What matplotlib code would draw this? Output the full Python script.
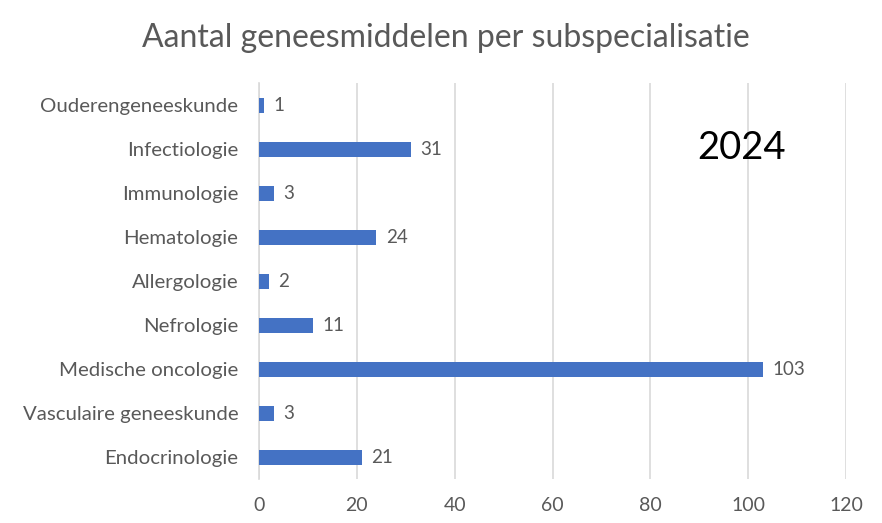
import matplotlib
matplotlib.use("Agg")
import matplotlib.pyplot as plt

categories = ["Ouderengeneeskunde", "Infectiologie", "Immunologie", "Hematologie",
              "Allergologie", "Nefrologie", "Medische oncologie",
              "Vasculaire geneeskunde", "Endocrinologie"]
values = [1, 31, 3, 24, 2, 11, 103, 3, 21]
xticks = [0, 20, 40, 60, 80, 100, 120]
title = "Aantal geneesmiddelen per subspecialisatie"
year_label = "2024"

plt.rcParams['font.family'] = ['Lato', 'DejaVu Sans']
fig = plt.figure(figsize=(8.82, 5.23), dpi=100)
ax = fig.add_axes([0.2937, 0.0841, 0.9592 - 0.2937, 0.841 - 0.0841])

grey = "#595959"
ypos = list(range(len(categories)))
ax.barh(ypos, values, height=0.34, color="#4472C4", zorder=3)
for y, v in zip(ypos, values):
    ax.text(v + 2.0, y, str(v), va="center", ha="left", fontsize=13.5, color=grey)

ax.set_yticks(ypos)
ax.set_yticklabels(categories, fontsize=14.7, color=grey)
ax.set_ylim(len(categories) - 0.5, -0.5)
ax.set_xlim(0, 120)
ax.set_xticks(xticks)
ax.set_xticklabels([str(t) for t in xticks], fontsize=14, color=grey)
ax.grid(axis="x", color="#d9d9d9", linewidth=1.2, zorder=0)
for s in ["top", "right", "bottom"]:
    ax.spines[s].set_visible(False)
ax.spines["left"].set_color("#d9d9d9")
ax.spines["left"].set_linewidth(1.2)
ax.tick_params(axis="y", length=0, pad=15)
ax.tick_params(axis="x", length=0, pad=13)

fig.text(0.505, 0.927, title, ha="center", va="center", fontsize=23, color=grey)
fig.text(0.841, 0.717, year_label, ha="center", va="center", fontsize=27.5, color="black")

fig.savefig("out.png", dpi=100)
